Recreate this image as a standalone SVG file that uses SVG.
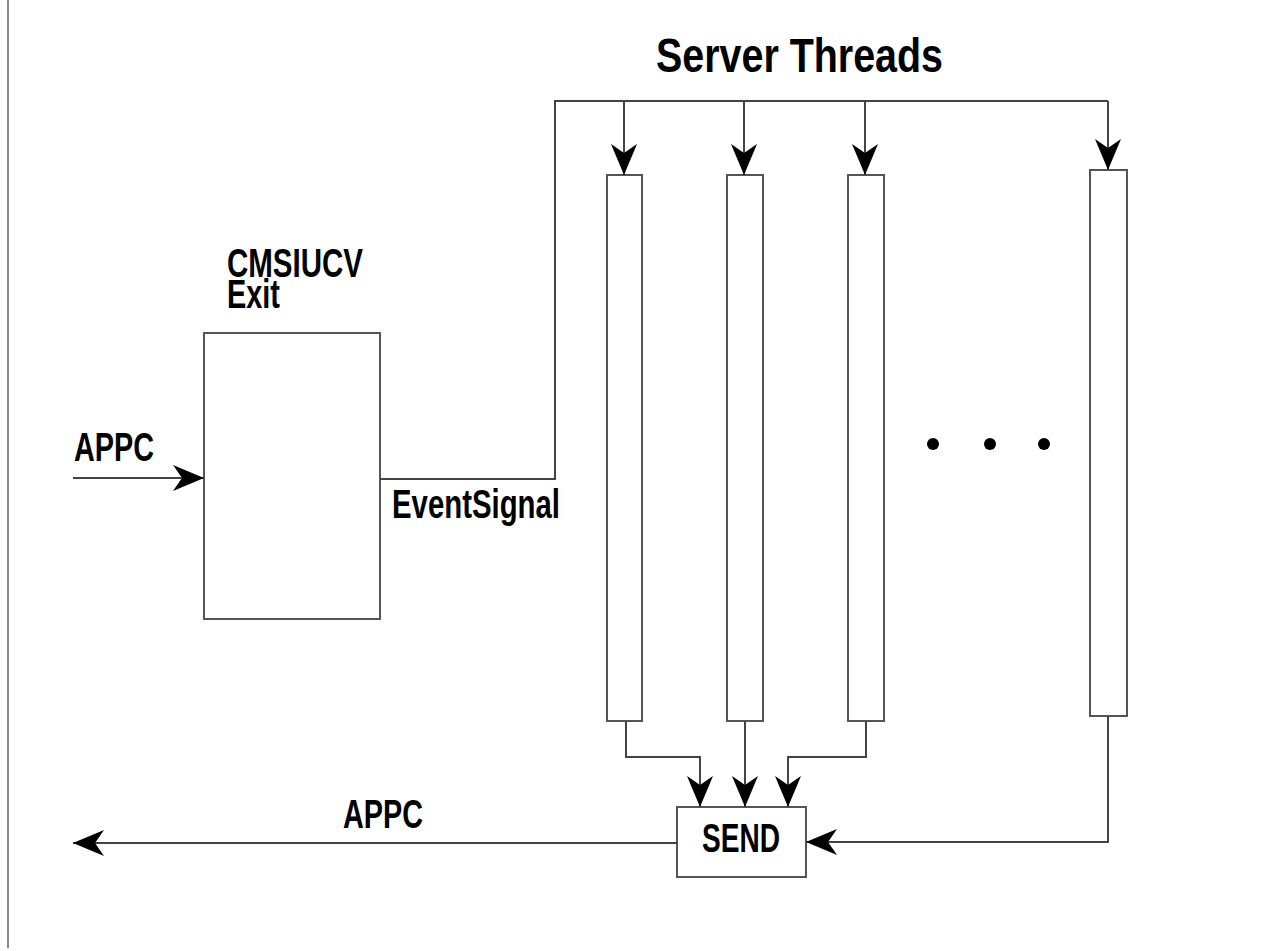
<svg xmlns="http://www.w3.org/2000/svg" width="1276" height="951" viewBox="0 0 1276 951">
<style>
.box{fill:#fff;stroke:#555;stroke-width:2}
.ln{fill:none;stroke:#444;stroke-width:2}
.t{font-family:"Liberation Sans",Arial,sans-serif;font-weight:bold;fill:#000}
</style>
<defs>
<marker id="ah" viewBox="-32 -14 34 28" refX="0" refY="0" markerWidth="34" markerHeight="28" markerUnits="userSpaceOnUse" orient="auto">
<path d="M0,0 L-31,-13 L-22,0 L-31,13 Z" fill="#000"/>
</marker>
</defs>
<rect width="1276" height="951" fill="#fff"/>
<line x1="8" y1="0" x2="8" y2="948" stroke="#888" stroke-width="2"/>
<text class="t" x="656" y="72" font-size="49" textLength="287" lengthAdjust="spacingAndGlyphs">Server Threads</text>
<g id="exit">
<rect class="box" x="204" y="333" width="176" height="286"/>
<text class="t" x="227" y="277" font-size="41" textLength="136" lengthAdjust="spacingAndGlyphs">CMSIUCV</text>
<text class="t" x="227" y="308" font-size="41" textLength="53" lengthAdjust="spacingAndGlyphs">Exit</text>
</g>
<g id="thread1"><rect class="box" x="607" y="175" width="35" height="546"/></g>
<g id="thread2"><rect class="box" x="727" y="175" width="36" height="546"/></g>
<g id="thread3"><rect class="box" x="848" y="175" width="36" height="546"/></g>
<g id="thread4"><rect class="box" x="1090" y="170" width="37" height="546"/></g>
<g id="dots" fill="#000">
<circle cx="933" cy="444" r="6"/>
<circle cx="990" cy="444" r="6"/>
<circle cx="1044" cy="444" r="6"/>
</g>
<g id="send">
<rect class="box" x="677" y="807" width="129" height="70"/>
<text class="t" x="702" y="852" font-size="41" textLength="78" lengthAdjust="spacingAndGlyphs">SEND</text>
</g>
<g id="connectors">
<line class="ln" x1="73" y1="478" x2="204" y2="478" marker-end="url(#ah)"/>
<polyline class="ln" points="380,479 555,479 555,101 1108,101"/>
<line class="ln" x1="624" y1="101" x2="624" y2="175" marker-end="url(#ah)"/>
<line class="ln" x1="744" y1="101" x2="744" y2="175" marker-end="url(#ah)"/>
<line class="ln" x1="865" y1="101" x2="865" y2="175" marker-end="url(#ah)"/>
<line class="ln" x1="1108" y1="101" x2="1108" y2="170" marker-end="url(#ah)"/>
<polyline class="ln" points="626,721 626,757 700,757 700,807" marker-end="url(#ah)"/>
<line class="ln" x1="745" y1="721" x2="745" y2="807" marker-end="url(#ah)"/>
<polyline class="ln" points="866,721 866,757 788,757 788,807" marker-end="url(#ah)"/>
<polyline class="ln" points="1108,716 1108,842 806,842" marker-end="url(#ah)"/>
<line class="ln" x1="677" y1="843" x2="73" y2="843" marker-end="url(#ah)"/>
<text class="t" x="74" y="461" font-size="41" textLength="80" lengthAdjust="spacingAndGlyphs">APPC</text>
<text class="t" x="392" y="518" font-size="41" textLength="168" lengthAdjust="spacingAndGlyphs">EventSignal</text>
<text class="t" x="343" y="828" font-size="41" textLength="80" lengthAdjust="spacingAndGlyphs">APPC</text>
</g>
</svg>
